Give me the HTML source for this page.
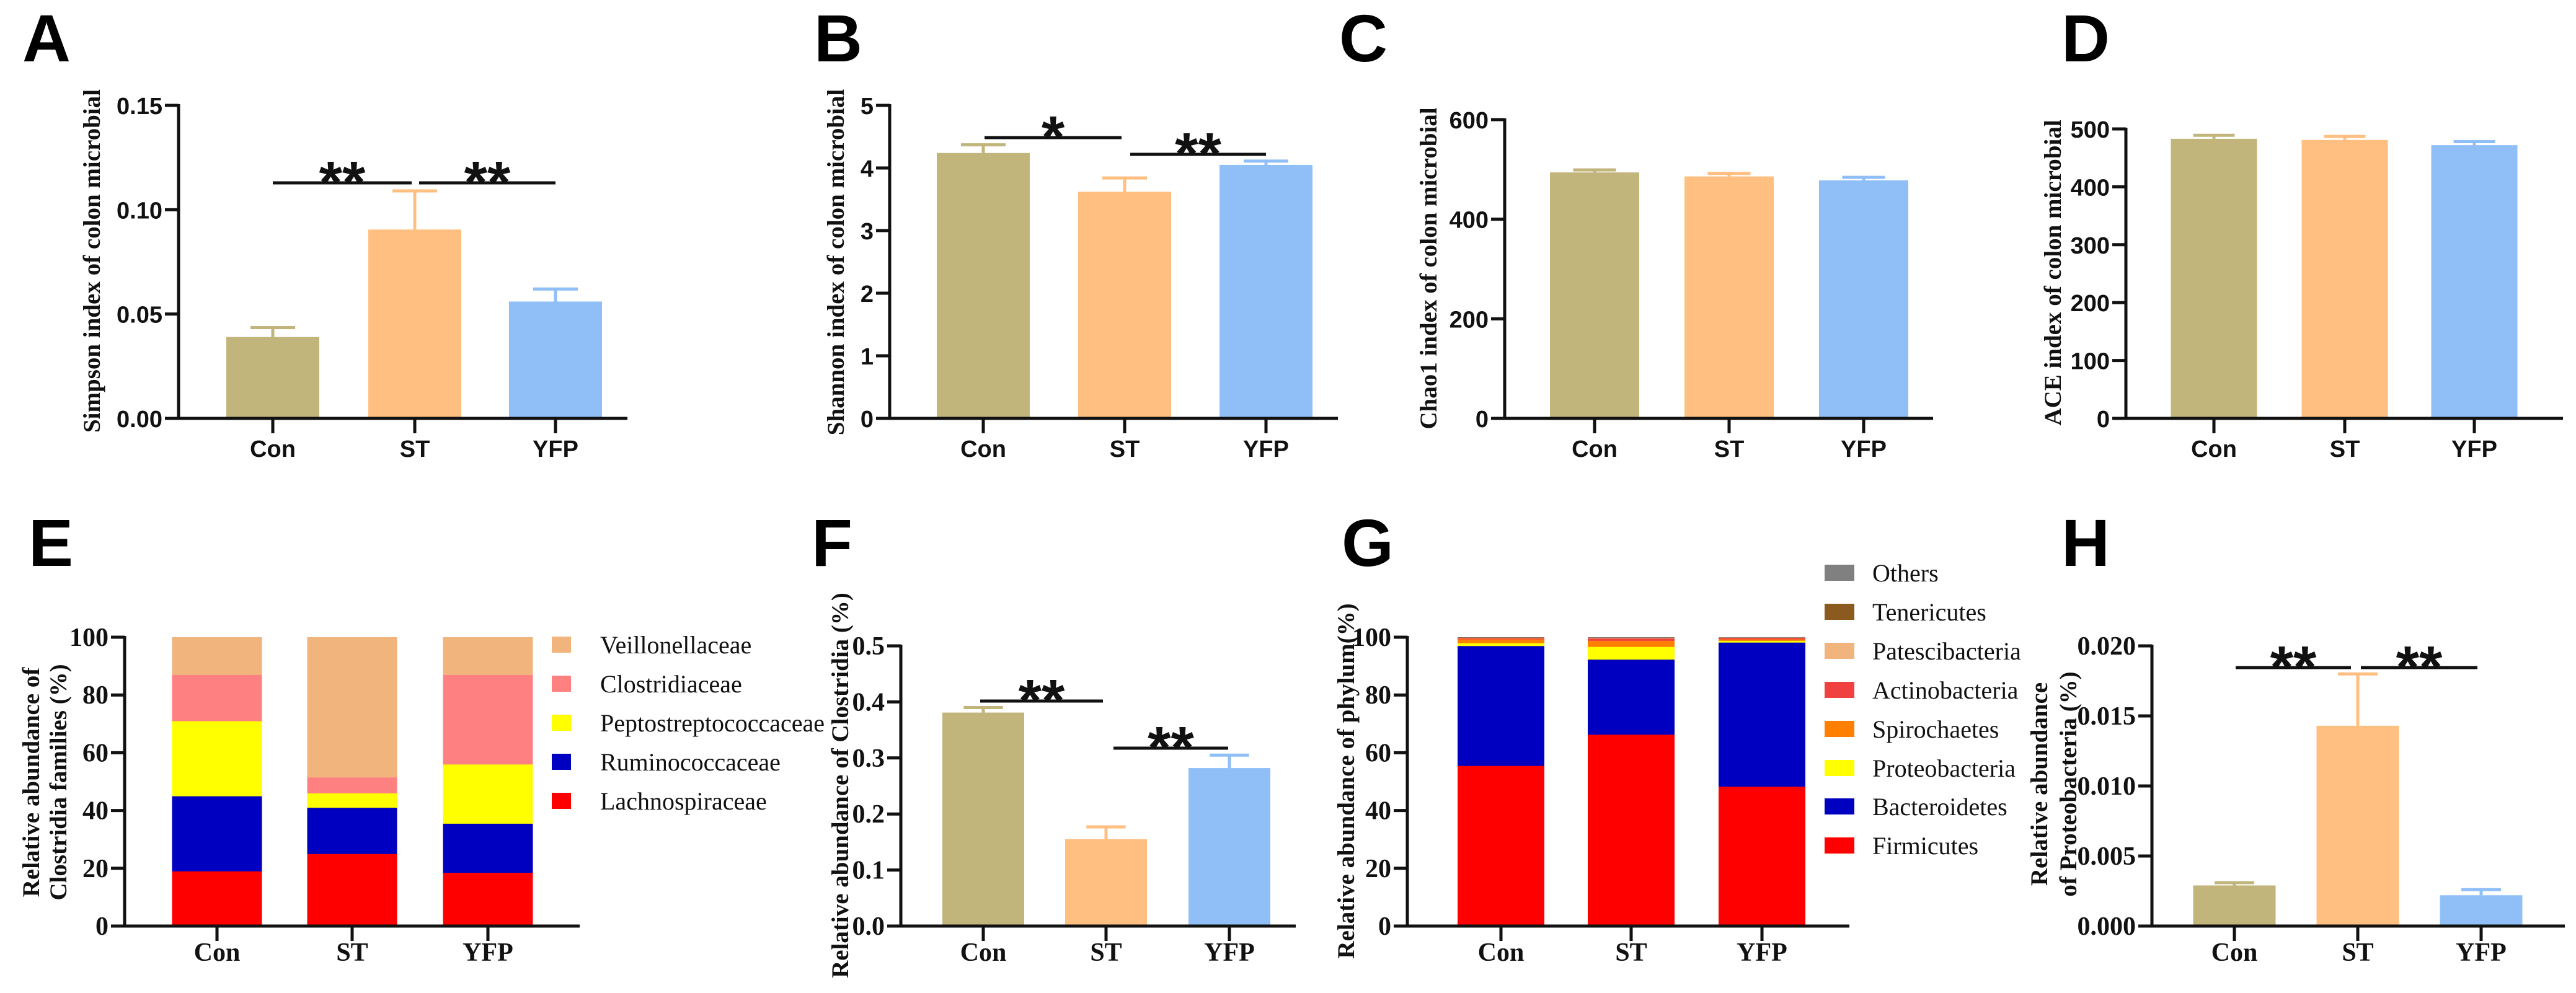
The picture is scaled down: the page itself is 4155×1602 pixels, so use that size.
<!DOCTYPE html>
<html><head><meta charset="utf-8"><style>
html,body{margin:0;padding:0;background:#fff;}
svg{display:block;}
.tk{font-family:"Liberation Sans",Arial,sans-serif;font-weight:bold;font-size:38px;fill:#111;}
.tks{font-family:"Liberation Serif","Times New Roman",serif;font-weight:bold;font-size:42px;fill:#111;}
.yt{font-family:"Liberation Serif","Times New Roman",serif;font-weight:bold;font-size:39px;fill:#111;}
.lg{font-family:"Liberation Serif","Times New Roman",serif;font-size:40px;fill:#111;}
.pl{font-family:"Liberation Sans",Arial,sans-serif;font-weight:bold;font-size:108px;fill:#000;}
.st{font-family:"Liberation Sans",Arial,sans-serif;font-weight:bold;font-size:96px;fill:#111;}
</style></head><body>
<svg id="fig" width="4155" height="1602" viewBox="0 0 4155 1602" xmlns="http://www.w3.org/2000/svg">
<rect width="4155" height="1602" fill="#fff"/>
</svg>
<script>
// ---------- data ----------
const groups = ["Con","ST","YFP"];
const aValues = [0.039,0.0905,0.056];
const aErrors = [0.0045,0.0185,0.006];
const aTicks = ["0.00","0.05","0.10","0.15"];
const bValues = [4.24,3.62,4.05];
const bErrors = [0.13,0.22,0.06];
const bTicks = ["0","1","2","3","4","5"];
const cValues = [494,486,478];
const cErrors = [5,6,6];
const cTicks = ["0","200","400","600"];
const dValues = [483,481,472];
const dErrors = [6,6,6];
const dTicks = ["0","100","200","300","400","500"];
const fValues = [0.381,0.155,0.282];
const fErrors = [0.009,0.022,0.023];
const fTicks = ["0.0","0.1","0.2","0.3","0.4","0.5"];
const hValues = [0.0029,0.0143,0.0022];
const hErrors = [0.0002,0.0037,0.0004];
const hTicks = ["0.000","0.005","0.010","0.015","0.020"];
const eFamilies = ["Lachnospiraceae","Ruminococcaceae","Peptostreptococcaceae","Clostridiaceae","Veillonellaceae"];
const eCon = [19,26,26,16,13];
const eST = [25,16,5,5.5,48.5];
const eYFP = [18.5,17,20.5,31,13];
const eTicks = ["0","20","40","60","80","100"];
const gPhyla = ["Firmicutes","Bacteroidetes","Proteobacteria","Spirochaetes","Actinobacteria","Patescibacteria","Tenericutes","Others"];
const gCon = [55.5,41.5,1,1.3,0.4,0.15,0.1,0.05];
const gST = [66.3,26,4.4,2.1,0.8,0.2,0.1,0.1];
const gYFP = [48.3,49.9,0.6,0.5,0.5,0.1,0.05,0.05];
const gTicks = ["0","20","40","60","80","100"];

const barColors = ["#c1b57b","#ffbf80","#90bff8"];
const eColors = ["#ff0000","#0000c0","#ffff00","#ff8080","#f0b47c"];
const gColors = ["#ff0000","#0000c0","#ffff00","#ff7f00","#f04040","#f0b47c","#8b5a1e","#808080"];

const svg = document.getElementById('fig');
const NS = "http://www.w3.org/2000/svg";
function mk(tag, attrs, parent){
  const e = document.createElementNS(NS, tag);
  for (const k in attrs) e.setAttribute(k, attrs[k]);
  (parent||svg).appendChild(e);
  return e;
}
function txt(s, x, y, cls, anchor, parent){
  const t = mk('text', {x:x, y:y, class:cls, 'text-anchor':anchor||'middle'}, parent);
  t.textContent = s;
  return t;
}

function panelLetter(ch, x, y){
  const t = txt(ch, x, y, 'pl', 'start');
  
  
}

function axes(g, L, ticks, tickCls){
  const n = ticks.length - 1;
  const y = v => L.y0 - (v / L.max) * (L.y0 - L.yTop);
  const ax = mk('line', {x1:L.ax, y1:L.yTop-2, x2:L.ax, y2:L.y0+2.5, stroke:'#111','stroke-width':5}, g);
  
  
  const xl = mk('line', {x1:L.ax-22, y1:L.y0, x2:L.xEnd, y2:L.y0, stroke:'#111','stroke-width':5}, g);
  
  
  ticks.forEach((s, i) => {
    const v = L.max * i / n;
    const yy = y(v);
    if (i > 0) mk('line', {x1:L.ax-22, y1:yy, x2:L.ax, y2:yy, stroke:'#111','stroke-width':5}, g);
    const t = txt(s, L.ax-26, yy + 14, tickCls, 'end', g);
    
    
  });
  groups.forEach((gr, i) => {
    const cx = L.cx[i];
    mk('line', {x1:cx, y1:L.y0, x2:cx, y2:L.y0+24, stroke:'#111','stroke-width':5}, g);
    const t = txt(gr, cx, L.y0 + L.labOff, tickCls === 'tk' ? 'tk' : 'tks', 'middle', g);
    
    
  });
  return y;
}
function yTitle(g, lines, x, cy, lh){
  lines.forEach((s, i) => {
    const xx = x + i * lh;
    const t = txt(s, 0, 0, 'yt', 'middle', g);
    t.setAttribute('transform', 'translate(' + (xx + 13) + ',' + cy + ') rotate(-90)');
    
    
  });
}
function barChart(name, L, vals, errs, ticks, tickCls){
  const g = mk('g', {});
  
  
  const y = axes(g, L, ticks, tickCls);
  vals.forEach((v, i) => {
    const cx = L.cx[i], w = L.bw;
    const r = mk('rect', {x:cx - w/2, y:y(v), width:w, height:L.y0 - 2.5 - y(v), fill:barColors[i]}, g);
    
    
    const ye = y(v + errs[i]);
    const el = mk('path', {d:'M' + cx + ' ' + y(v) + 'V' + ye + 'M' + (cx - w*0.24) + ' ' + ye + 'H' + (cx + w*0.24), stroke:barColors[i], 'stroke-width':5, fill:'none'}, g);
    
    
  });
  return {g:g, y:y};
}
function sig(g, x1, x2, yy, stars){
  const l = mk('line', {x1:x1, y1:yy, x2:x2, y2:yy, stroke:'#111','stroke-width':5}, g);
  
  
  const t = txt(stars, (x1 + x2) / 2, yy + 32, 'st', 'middle', g);
  
  
}
function stacked(name, L, series, cats, colors, ticks){
  const g = mk('g', {});
  
  
  const y = axes(g, L, ticks, 'tks');
  series.forEach((arr, i) => {
    let acc = 0;
    arr.forEach((v, k) => {
      const r = mk('rect', {x:L.cx[i] - L.bw/2, y:y(acc + v), width:L.bw, height:y(acc) - y(acc + v) + (k===0?-2.5:0.3), fill:colors[k]}, g);
      
      
      acc += v;
    });
  });
  return g;
}
function legend(g, cats, colors, x, ys, sw, sh, tx){
  cats.forEach((c, k) => {
    const r = mk('rect', {x:x, y:ys[k] - sh/2, width:sw, height:sh, fill:colors[k]}, g);
    
    
    const t = txt(c, tx, ys[k] + 14, 'lg', 'start', g);
    
    
  });
}

panelLetter('A', 36, 99);
let p = barChart('panel-a-simpson', {ax:288, y0:675, yTop:170, max:0.15, xEnd:1012, cx:[440,669,896], bw:150, labOff:62}, aValues, aErrors, aTicks, 'tk');
yTitle(p.g, ['Simpson index of colon microbial'], 148, 421, 0);
sig(p.g, 440, 664, 295, '**');
sig(p.g, 676, 896, 295, '**');

panelLetter('B', 1313, 99);
p = barChart('panel-b-shannon', {ax:1435, y0:675, yTop:170, max:5, xEnd:2158, cx:[1586,1814,2042], bw:150, labOff:62}, bValues, bErrors, bTicks, 'tk');
yTitle(p.g, ['Shannon index of colon microbial'], 1348, 423, 0);
sig(p.g, 1588, 1809, 222, '*');
sig(p.g, 1823, 2042, 249, '**');

panelLetter('C', 2160, 99);
p = barChart('panel-c-chao1', {ax:2427, y0:675, yTop:193, max:600, xEnd:3118, cx:[2572,2789,3006], bw:144, labOff:62}, cValues, cErrors, cTicks, 'tk');
yTitle(p.g, ['Chao1 index of colon microbial'], 2304, 433, 0);

panelLetter('D', 3325, 99);
p = barChart('panel-d-ace', {ax:3429, y0:675, yTop:208, max:500, xEnd:4134, cx:[3571,3782,3991], bw:139, labOff:62}, dValues, dErrors, dTicks, 'tk');
yTitle(p.g, ['ACE index of colon microbial'], 3311, 440, 0);

panelLetter('E', 46, 913);
let ge = stacked('panel-e-clostridia-families', {ax:201, y0:1494, yTop:1028, max:100, xEnd:935, cx:[350,568,787], bw:145, labOff:56}, [eCon, eST, eYFP], eFamilies, eColors, eTicks);
yTitle(ge, ['Relative abundance of', 'Clostridia families (%)'], 50, 1262, 44);
legend(ge, eFamilies.slice().reverse(), eColors.slice().reverse(), 890, [1040,1103,1166,1229,1292], 31, 26, 968);

panelLetter('F', 1309, 913);
p = barChart('panel-f-clostridia', {ax:1453, y0:1494, yTop:1042, max:0.5, xEnd:2090, cx:[1586,1784,1983], bw:132, labOff:56}, fValues, fErrors, fTicks, 'tks');
yTitle(p.g, ['Relative abundance of Clostridia (%)'], 1355, 1267, 0);
sig(p.g, 1581, 1779, 1131, '**');
sig(p.g, 1796, 1981, 1207, '**');

panelLetter('G', 2164, 913);
let gg = stacked('panel-g-phylum', {ax:2270, y0:1494, yTop:1028, max:100, xEnd:2983, cx:[2421,2631,2842], bw:140, labOff:56}, [gCon, gST, gYFP], gPhyla, gColors, gTicks);
yTitle(gg, ['Relative abundance of phylum(%)'], 2171, 1260, 0);
legend(gg, gPhyla.slice().reverse(), gColors.slice().reverse(), 2943, [924,987,1050,1113,1176,1239,1301,1364], 48, 26, 3020);

panelLetter('H', 3325, 913);
p = barChart('panel-h-proteobacteria', {ax:3471, y0:1494, yTop:1042, max:0.02, xEnd:4137, cx:[3604,3803,4002], bw:133, labOff:56}, hValues, hErrors, hTicks, 'tks');
yTitle(p.g, ['Relative abundance', 'of Proteobacteria (%)'], 3289, 1265, 47);
sig(p.g, 3606, 3792, 1077, '**');
sig(p.g, 3808, 3996, 1077, '**');
</script>
</body></html>
